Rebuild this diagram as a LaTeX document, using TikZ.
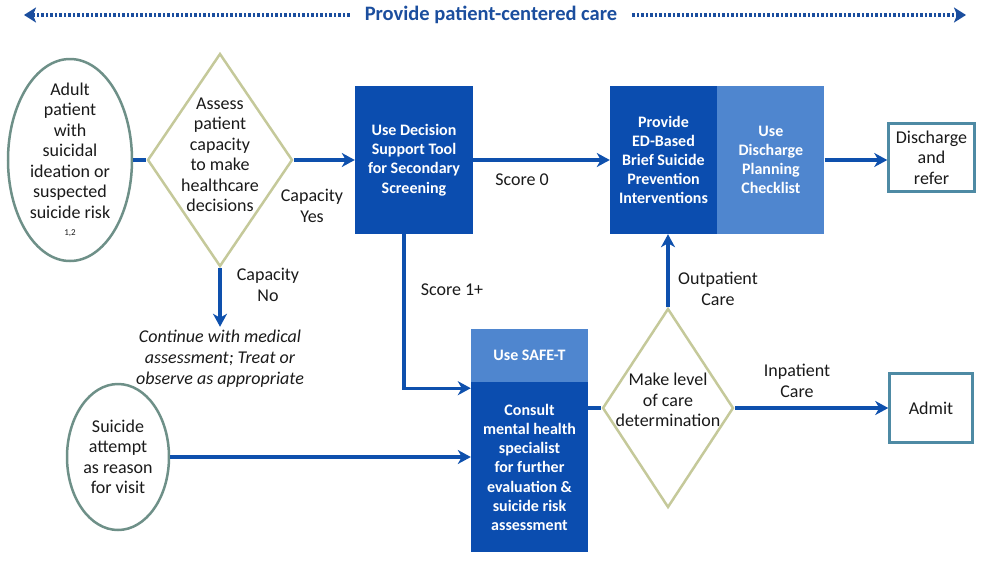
\documentclass[tikz,border=0pt]{standalone}
\usepackage{fontspec}
\setmainfont{Carlito}
\usetikzlibrary{arrows.meta, positioning, shapes.geometric}

\definecolor{boxblue}{HTML}{0B4DAF}
\definecolor{lightblue}{HTML}{4F86CF}
\definecolor{lineblue}{HTML}{0E50AD}
\definecolor{titleblue}{HTML}{1B4E9E}
\definecolor{ovalline}{HTML}{6E9088}
\definecolor{diamline}{HTML}{C5C99A}
\definecolor{endline}{HTML}{4E8AA4}
\definecolor{ink}{HTML}{1A1A1A}

\begin{document}
\begin{tikzpicture}[x=1pt, y=-1pt]
	\tikzset {>={Stealth[length=13pt, width=14pt, inset=4pt]},
		every node/.style={font=\fontsize{18}{20.5}\selectfont, text=ink, align=center},
		line/.style={draw=lineblue, line width=3.4pt},
		banner/.style={draw=titleblue, line width=4pt, dash pattern=on 2.2pt off 2.3pt,
			-{Stealth[length=12pt, width=15pt, inset=3pt]}},
		startnode/.style={ellipse, draw=ovalline, line width=2.5pt, fill=white},
		decision/.style={diamond, draw=diamline, line width=2.5pt, fill=white},
		darkbox/.style={rectangle, fill=boxblue, text=white, inner sep=2pt,
			font=\bfseries\fontsize{16}{19.2}\selectfont},
		lightbox/.style={darkbox, fill=lightblue},
		endnode/.style={rectangle, draw=endline, line width=2.5pt, fill=white}
	}
	\useasboundingbox (0,0) rectangle (984,560);

	% banner
	\node[text=titleblue, font=\bfseries\fontsize{20.5}{22}\selectfont, inner xsep=15pt] (title) at (491,15) {Provide patient-centered care};
	\coordinate (bannerL) at (24,15);
	\coordinate (bannerR) at (966,15);
	\draw[banner] (title.west) -- (bannerL);
	\draw[banner] (title.east) -- (bannerR);

	% shapes
	\node[startnode, minimum width=124pt, minimum height=202pt] (adult) at (70,160) {};
	\node (adulttext) at (adult) {Adult\\patient\\with\\suicidal\\ideation or\\suspected\\suicide risk\\[-3pt]{\fontsize{9}{10}\selectfont 1,2}};
	\node[decision, minimum width=145pt, minimum height=213pt] (assess) at (220,160) {};
	\node (assesstext) at ([yshift=5pt]assess) {Assess\\patient\\capacity\\to make\\healthcare\\decisions};
	\node[font=\itshape\fontsize{18}{21}\selectfont] (cont) at (220,359) {Continue with medical\\assessment; Treat or\\observe as appropriate};
	\node[startnode, minimum width=102pt, minimum height=146pt] (attempt) at (118,457) {};
	\node (attempttext) at (attempt) {Suicide\\attempt\\as reason\\for visit};

	\node[darkbox, minimum width=118pt, minimum height=148pt] (dst) at (414,160) {Use Decision\\Support Tool\\for Secondary\\Screening};
	\node[darkbox, minimum width=107pt, minimum height=148pt] (provide) at (663.5,160) {Provide\\ED-Based\\Brief Suicide\\Prevention\\Interventions};
	\node[lightbox, minimum width=107pt, minimum height=148pt, right=0pt of provide] (checklist) {Use\\Discharge\\Planning\\Checklist};
	\node[endnode, minimum width=86pt, minimum height=68pt] (discharge) at (931.5,157.5) {Discharge\\and\\refer};

	\node[lightbox, minimum width=117pt, minimum height=53pt] (safet) at (529.5,355.5) {Use SAFE-T};
	\node[darkbox, minimum width=117pt, minimum height=170pt, below=0pt of safet] (consult) {Consult\\mental health\\specialist\\for further\\evaluation \&\\suicide risk\\assessment};
	\node[decision, minimum width=131pt, minimum height=199pt] (level) at (668,408) {};
	\node (leveltext) at ([yshift=8pt]level) {Make level\\of care\\determination};
	\node[endnode, minimum width=83pt, minimum height=69pt] (admit) at (931,408) {Admit};

	% connectors
	\draw[line] (adult.east) -- (assess.west);
	\draw[line, ->] (assess.east) -- (dst.west);
	\draw[line, ->] (assess.south) -- (cont.north);
	\draw[line, ->] (dst.east) -- (provide.west);
	\draw[line, ->] (checklist.east) -- (checklist.east -| discharge.west);
	\draw[line, ->] ([xshift=-10pt]dst.south) |- ([yshift=-6pt]safet.south west);
	\draw[line, ->] (attempt.east) -- (attempt.east -| consult.west);
	\draw[line] (consult.east |- level.west) -- (level.west);
	\draw[line, ->] (level.north) -- (level.north |- provide.south);
	\draw[line, ->] (level.east) -- (admit.west);

	% labels
	\node (capyes) at (312,206) {Capacity\\Yes};
	\node (capno) at (268,285) {Capacity\\No};
	\node (score0) at (522,180) {Score 0};
	\node (score1) at (452,290) {Score 1+};
	\node (outpat) at (718,289) {Outpatient\\Care};
	\node (inpat) at (797,381) {Inpatient\\Care};
\end{tikzpicture}
\end{document}
